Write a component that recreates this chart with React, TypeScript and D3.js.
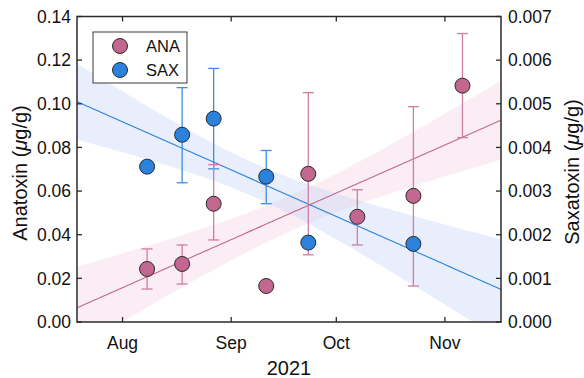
import React from "react";
import * as d3 from "d3";

const anaDates = ["2021-08-08", "2021-08-18", "2021-08-27", "2021-09-11", "2021-09-23", "2021-10-07", "2021-10-23", "2021-11-06"];
const anaValues = [0.0243, 0.0266, 0.0542, 0.0165, 0.0679, 0.0482, 0.0578, 0.1083];
const anaErrLow = [0.0151, 0.0174, 0.0376, null, 0.0308, 0.0353, 0.0165, 0.0845];
const anaErrHigh = [0.0335, 0.0353, 0.0721, null, 0.1051, 0.0606, 0.0987, 0.1322];

const saxDates = ["2021-08-08", "2021-08-18", "2021-08-27", "2021-09-11", "2021-09-23", "2021-10-23"];
const saxValues = [0.00356, 0.00429, 0.00466, 0.00333, 0.00182, 0.00179];
const saxErrLow = [null, 0.00319, 0.00351, 0.00271, null, null];
const saxErrHigh = [null, 0.00537, 0.00581, 0.00393, null, null];

const monthTicks = ["2021-08-01", "2021-09-01", "2021-10-01", "2021-11-01"];
const leftTicks = [0, 0.02, 0.04, 0.06, 0.08, 0.1, 0.12, 0.14];
const rightTicks = [0, 0.001, 0.002, 0.003, 0.004, 0.005, 0.006, 0.007];
// t quantiles used for the confidence bands (df = n - 2)
const anaT = 1.134;
const saxT = 1.19;

const W = 584, H = 378;
const L = 77, R = 501, T = 16.5, B = 322;
const FONT = "'Liberation Sans', Arial, Helvetica, sans-serif";
const ANA = "#c2678f";
const ANA_ERR = "#cf7ea3";
const SAX = "#2a82dc";
const SAX_ERR = "#3d8ee0";
const AXIS = "#2b2b2b";

const parse = d3.timeParse("%Y-%m-%d");
const x = d3.scaleTime().domain([parse("2021-07-19")!, parse("2021-11-17")!]).range([L, R]);
const yL = d3.scaleLinear().domain([0, 0.14]).range([B, T]);
const yR = d3.scaleLinear().domain([0, 0.007]).range([B, T]);

const DAY = 86400000;

function fit(dates: string[], vals: number[], t: number) {
  const xs = dates.map((d) => parse(d)!.getTime() / DAY);
  const n = xs.length;
  const mx = d3.mean(xs)!;
  const my = d3.mean(vals)!;
  let sxx = 0, sxy = 0;
  xs.forEach((xi, i) => {
    sxx += (xi - mx) ** 2;
    sxy += (xi - mx) * (vals[i] - my);
  });
  const b = sxy / sxx;
  const a = my - b * mx;
  let sse = 0;
  xs.forEach((xi, i) => (sse += (vals[i] - (a + b * xi)) ** 2));
  const s = Math.sqrt(sse / (n - 2));
  const d0 = x.domain()[0].getTime() / DAY;
  const d1 = x.domain()[1].getTime() / DAY;
  const pts = d3.range(0, 101).map((k) => {
    const xd = d0 + ((d1 - d0) * k) / 100;
    const yh = a + b * xd;
    const se = s * Math.sqrt(1 / n + (xd - mx) ** 2 / sxx);
    return { date: new Date(xd * DAY), y: yh, lo: yh - t * se, hi: yh + t * se };
  });
  return pts;
}

export default function App() {
  const anaFit = fit(anaDates, anaValues, anaT);
  const saxFit = fit(saxDates, saxValues, saxT);

  const bandL = d3.area<any>().x((d) => x(d.date)).y0((d) => yL(d.lo)).y1((d) => yL(d.hi));
  const bandR = d3.area<any>().x((d) => x(d.date)).y0((d) => yR(d.lo)).y1((d) => yR(d.hi));
  const lineL = d3.line<any>().x((d) => x(d.date)).y((d) => yL(d.y));
  const lineR = d3.line<any>().x((d) => x(d.date)).y((d) => yR(d.y));

  const cap = 5.5;
  const fmtL = d3.format(".2f");
  const fmtR = d3.format(".3f");
  const fmtM = d3.timeFormat("%b");

  return (
    <svg width={W} height={H} style={{ position: "absolute", left: 0, top: 0, background: "#fff" }} fontFamily={FONT}>
      <defs>
        <clipPath id="plot">
          <rect x={L} y={T} width={R - L} height={B - T} />
        </clipPath>
      </defs>
      <g clipPath="url(#plot)">
        <path d={bandL(anaFit)!} fill="#f3c4da" fillOpacity={0.3} />
        <path d={bandR(saxFit)!} fill="#c4d3f6" fillOpacity={0.38} />
        <path d={lineL(anaFit)!} fill="none" stroke={ANA} strokeWidth={1.1} />
        <path d={lineR(saxFit)!} fill="none" stroke={SAX} strokeWidth={1.1} />
      </g>
      {/* error bars */}
      {saxDates.map((d, i) =>
        saxErrLow[i] == null ? null : (
          <g key={"se" + i} stroke={SAX_ERR} strokeWidth={1.3}>
            <line x1={x(parse(d)!)} x2={x(parse(d)!)} y1={yR(saxErrLow[i]!)} y2={yR(saxErrHigh[i]!)} />
            <line x1={x(parse(d)!) - cap} x2={x(parse(d)!) + cap} y1={yR(saxErrLow[i]!)} y2={yR(saxErrLow[i]!)} />
            <line x1={x(parse(d)!) - cap} x2={x(parse(d)!) + cap} y1={yR(saxErrHigh[i]!)} y2={yR(saxErrHigh[i]!)} />
          </g>
        )
      )}
      {anaDates.map((d, i) =>
        anaErrLow[i] == null ? null : (
          <g key={"ae" + i} stroke={ANA_ERR} strokeWidth={1.3}>
            <line x1={x(parse(d)!)} x2={x(parse(d)!)} y1={yL(anaErrLow[i]!)} y2={yL(anaErrHigh[i]!)} />
            <line x1={x(parse(d)!) - cap} x2={x(parse(d)!) + cap} y1={yL(anaErrLow[i]!)} y2={yL(anaErrLow[i]!)} />
            <line x1={x(parse(d)!) - cap} x2={x(parse(d)!) + cap} y1={yL(anaErrHigh[i]!)} y2={yL(anaErrHigh[i]!)} />
          </g>
        )
      )}
      {anaDates.map((d, i) => (
        <circle key={"a" + i} cx={x(parse(d)!)} cy={yL(anaValues[i])} r={7.5} fill={ANA} stroke="#2a2a2a" strokeWidth={1} />
      ))}
      {saxDates.map((d, i) => (
        <circle key={"s" + i} cx={x(parse(d)!)} cy={yR(saxValues[i])} r={7.5} fill={SAX} stroke="#2a2a2a" strokeWidth={1} />
      ))}
      {/* frame */}
      <rect x={L} y={T} width={R - L} height={B - T} fill="none" stroke={AXIS} strokeWidth={1.5} />
      {/* left ticks */}
      {leftTicks.map((v) => (
        <g key={"l" + v}>
          <line x1={L} x2={L + 5} y1={yL(v)} y2={yL(v)} stroke={AXIS} strokeWidth={1.3} />
          <text x={L - 6} y={yL(v)} dy="0.36em" textAnchor="end" fontSize={17.5} fill="#111">
            {fmtL(v)}
          </text>
        </g>
      ))}
      {rightTicks.map((v) => (
        <g key={"r" + v}>
          <line x1={R - 5} x2={R} y1={yR(v)} y2={yR(v)} stroke={AXIS} strokeWidth={1.3} />
          <text x={R + 7} y={yR(v)} dy="0.36em" textAnchor="start" fontSize={17.5} fill="#111">
            {fmtR(v)}
          </text>
        </g>
      ))}
      {monthTicks.map((m) => {
        const xm = x(parse(m)!);
        return (
          <g key={m}>
            <line x1={xm} x2={xm} y1={B} y2={B - 5} stroke={AXIS} strokeWidth={1.3} />
            <line x1={xm} x2={xm} y1={T} y2={T + 5} stroke={AXIS} strokeWidth={1.3} />
            <text x={xm} y={349} textAnchor="middle" fontSize={17.5} fill="#111">
              {fmtM(parse(m)!)}
            </text>
          </g>
        );
      })}
      {/* axis titles */}
      <text x={(L + R) / 2} y={375} textAnchor="middle" fontSize={20} fill="#111">
        2021
      </text>
      <text transform={`translate(27,173) rotate(-90)`} textAnchor="middle" fontSize={20} fill="#111">
        Anatoxin (<tspan fontStyle="italic">μ</tspan>g/g)
      </text>
      <text transform={`translate(579,172) rotate(-90)`} textAnchor="middle" fontSize={20} fill="#111">
        Saxatoxin (<tspan fontStyle="italic">μ</tspan>g/g)
      </text>
      {/* legend */}
      <rect x={93} y={32} width={94} height={51} fill="#fff" stroke="#3a3a3a" strokeWidth={1} />
      <circle cx={120} cy={46} r={7.5} fill={ANA} stroke="#2a2a2a" strokeWidth={1} />
      <circle cx={120} cy={70} r={7.5} fill={SAX} stroke="#2a2a2a" strokeWidth={1} />
      <text x={146} y={46} dy="0.36em" fontSize={16.5} fill="#111">ANA</text>
      <text x={146} y={70} dy="0.36em" fontSize={16.5} fill="#111">SAX</text>
    </svg>
  );
}
